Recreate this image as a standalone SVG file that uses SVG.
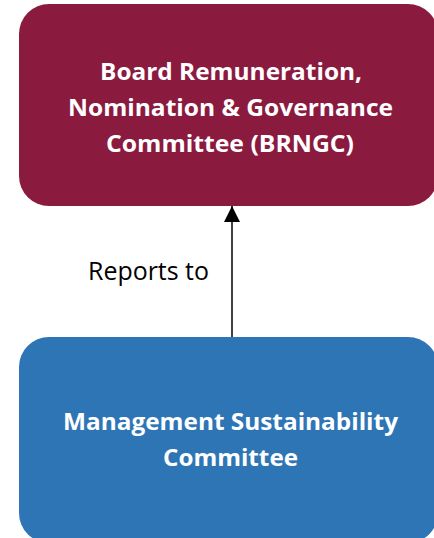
<svg xmlns="http://www.w3.org/2000/svg" width="434" height="538" viewBox="0 0 434 538">
  <style>
    .title { font-family: "Open Sans", "Liberation Sans", sans-serif; font-weight: bold; font-size: 23.5px; fill: #ffffff; }
    .label { font-family: "Open Sans", "Liberation Sans", sans-serif; font-size: 25px; fill: #000000; }
    .link { stroke: #000000; stroke-width: 1.5; fill: none; }
  </style>
  <defs>
    <marker id="arrow" viewBox="0 0 16 16" refX="16" refY="8" markerWidth="16" markerHeight="16" markerUnits="userSpaceOnUse" orient="auto">
      <path d="M0,0 L16,8 L0,16 Z" fill="#000000"/>
    </marker>
  </defs>
  <rect width="434" height="538" fill="#ffffff"/>

  <g id="connectors">
    <line class="link" x1="232" y1="337" x2="232" y2="206" marker-end="url(#arrow)"/>
    <text class="label" x="88" y="280" textLength="121" lengthAdjust="spacingAndGlyphs">Reports to</text>
  </g>

  <g id="brngc">
    <rect x="19" y="4" width="419" height="202" rx="30" ry="30" fill="#8b1a3f"/>
    <text class="title" x="100" y="80" textLength="262" lengthAdjust="spacingAndGlyphs">Board Remuneration,</text>
    <text class="title" x="68" y="116" textLength="325" lengthAdjust="spacingAndGlyphs">Nomination &amp; Governance</text>
    <text class="title" x="106" y="152" textLength="248" lengthAdjust="spacingAndGlyphs">Committee (BRNGC)</text>
  </g>

  <g id="msc">
    <rect x="19" y="337" width="419" height="206" rx="30" ry="30" fill="#2e75b6"/>
    <text class="title" x="63" y="430" textLength="335" lengthAdjust="spacingAndGlyphs">Management Sustainability</text>
    <text class="title" x="163" y="466" textLength="135" lengthAdjust="spacingAndGlyphs">Committee</text>
  </g>
</svg>
